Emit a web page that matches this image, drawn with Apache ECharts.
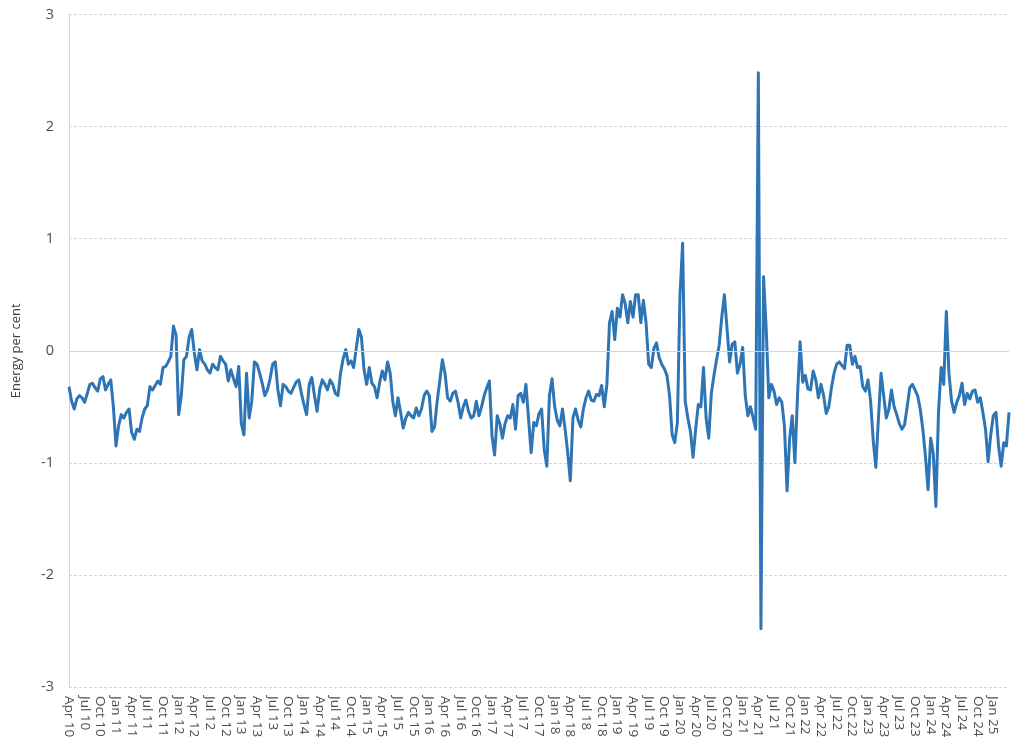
<!DOCTYPE html>
<html>
<head>
    <meta charset="utf-8">
    <script src="https://cdn.jsdelivr.net/npm/echarts@6/dist/echarts.min.js"></script>
    <style>
        html, body { margin: 0; padding: 0; background: #fff; }
    </style>
</head>
<body>
	<div id="main" style="width: 1035px; height: 748px;"></div>
	<script type="text/javascript">
		// two readings per month, first one Apr 2010, last one Apr 2025
		var monthNames = ['Jan','Feb','Mar','Apr','May','Jun','Jul','Aug','Sep','Oct','Nov','Dec']
		var startYear = 2010
		var startMonth = 3
		var yTicks = [-3, -2, -1, 0, 1, 2, 3]

		var energy = [
			-0.32,-0.45,-0.52,-0.43,-0.40,-0.42,-0.46,-0.38,-0.30,-0.29,-0.33,-0.36,
			-0.25,-0.23,-0.35,-0.30,-0.26,-0.50,-0.85,-0.67,-0.57,-0.60,-0.55,-0.52,
			-0.73,-0.79,-0.70,-0.72,-0.60,-0.52,-0.49,-0.32,-0.35,-0.31,-0.27,-0.30,
			-0.15,-0.14,-0.10,-0.05,0.22,0.14,-0.57,-0.40,-0.08,-0.05,0.12,0.19,
			-0.02,-0.17,0.01,-0.09,-0.12,-0.17,-0.20,-0.12,-0.15,-0.17,-0.05,-0.09,
			-0.12,-0.27,-0.17,-0.25,-0.32,-0.14,-0.65,-0.75,-0.20,-0.60,-0.45,-0.10,
			-0.12,-0.20,-0.29,-0.40,-0.35,-0.25,-0.12,-0.10,-0.35,-0.49,-0.30,-0.32,
			-0.36,-0.38,-0.33,-0.28,-0.26,-0.38,-0.48,-0.57,-0.30,-0.24,-0.40,-0.54,
			-0.35,-0.26,-0.30,-0.35,-0.26,-0.30,-0.38,-0.40,-0.20,-0.07,0.01,-0.12,
			-0.09,-0.15,0.02,0.19,0.12,-0.17,-0.30,-0.15,-0.29,-0.32,-0.42,-0.28,
			-0.18,-0.26,-0.10,-0.20,-0.45,-0.58,-0.42,-0.55,-0.69,-0.60,-0.55,-0.58,
			-0.60,-0.51,-0.58,-0.52,-0.40,-0.36,-0.40,-0.72,-0.68,-0.45,-0.27,-0.08,
			-0.20,-0.42,-0.45,-0.38,-0.36,-0.46,-0.60,-0.50,-0.44,-0.54,-0.60,-0.58,
			-0.45,-0.58,-0.50,-0.40,-0.33,-0.27,-0.76,-0.93,-0.58,-0.65,-0.78,-0.65,
			-0.58,-0.60,-0.48,-0.70,-0.40,-0.38,-0.46,-0.30,-0.61,-0.91,-0.64,-0.67,
			-0.56,-0.52,-0.88,-1.03,-0.40,-0.25,-0.50,-0.62,-0.67,-0.52,-0.70,-0.91,
			-1.16,-0.60,-0.52,-0.62,-0.68,-0.52,-0.42,-0.36,-0.44,-0.45,-0.39,-0.40,
			-0.31,-0.50,-0.30,0.25,0.35,0.10,0.38,0.30,0.50,0.42,0.25,0.44,
			0.30,0.50,0.50,0.25,0.45,0.25,-0.12,-0.15,0.02,0.07,-0.06,-0.12,
			-0.16,-0.22,-0.40,-0.75,-0.82,-0.64,0.50,0.96,-0.45,-0.60,-0.72,-0.95,
			-0.70,-0.48,-0.50,-0.15,-0.60,-0.78,-0.38,-0.22,-0.08,0.05,0.30,0.50,
			0.20,-0.10,0.06,0.08,-0.20,-0.12,0.03,-0.40,-0.58,-0.50,-0.60,-0.70,
			2.48,-2.48,0.66,0.20,-0.42,-0.30,-0.36,-0.48,-0.42,-0.46,-0.67,-1.25,
			-0.78,-0.58,-1.00,-0.40,0.08,-0.28,-0.22,-0.34,-0.35,-0.18,-0.26,-0.42,
			-0.30,-0.40,-0.56,-0.50,-0.33,-0.20,-0.12,-0.10,-0.13,-0.16,0.05,0.05,
			-0.12,-0.05,-0.15,-0.14,-0.32,-0.36,-0.26,-0.45,-0.80,-1.04,-0.60,-0.20,
			-0.40,-0.60,-0.52,-0.35,-0.50,-0.57,-0.65,-0.70,-0.66,-0.50,-0.33,-0.30,
			-0.35,-0.40,-0.52,-0.70,-0.94,-1.24,-0.78,-0.92,-1.39,-0.55,-0.15,-0.30,
			0.35,-0.20,-0.45,-0.55,-0.46,-0.40,-0.29,-0.48,-0.38,-0.43,-0.36,-0.35,
			-0.46,-0.42,-0.55,-0.70,-0.99,-0.75,-0.58,-0.55,-0.85,-1.03,-0.82,-0.85,
			-0.55
		]

		var dates = []
		for (var i = 0; i < energy.length; i++) {
			var m = startMonth + Math.floor(i / 2)
			var yy = (startYear + Math.floor(m / 12)) % 100
			var name = monthNames[m % 12] + ' ' + (yy < 10 ? '0' + yy : yy)
			dates.push(i % 2 === 0 ? name : name + ' mid')
		}

		var gridCol = '#c9d6e8'
		var textCol = '#4d4d4d'
		var font = '"Open Sans", "Noto Sans", sans-serif'

		var myChart = echarts.init(document.getElementById('main'))
		var option = {
			animation: false,
			grid: {
				left: 69,
				right: 26,
				top: 14.5,
				bottom: 61
			},
			xAxis: {
				type: 'category',
				data: dates,
				boundaryGap: false,
				axisLine: { show: false },
				axisTick: { show: false },
				splitLine: { show: false },
				axisLabel: {
					rotate: -90,
					margin: 9,
					color: textCol,
					fontFamily: font,
					fontSize: 13.5,
					interval: function (idx) {
						// quarterly labels, the final Apr 25 point has none
						return idx % 6 === 0 && idx < energy.length - 1
					}
				}
			},
			yAxis: {
				type: 'value',
				min: yTicks[0],
				max: yTicks[yTicks.length - 1],
				interval: 1,
				name: 'Energy per cent',
				nameLocation: 'middle',
				nameGap: 46,
				nameTextStyle: {
					color: '#404040',
					fontFamily: font,
					fontSize: 13
				},
				axisLine: {
					show: true,
					lineStyle: { color: gridCol, width: 1 }
				},
				axisTick: { show: false },
				axisLabel: {
					margin: 15,
					color: textCol,
					fontFamily: font,
					fontSize: 14.5
				},
				splitLine: {
					show: true,
					lineStyle: { color: gridCol, type: [3, 2], width: 1 }
				}
			},
			series: [{
				// solid zero line drawn under the data
				type: 'line',
				data: [],
				z: 1,
				silent: true,
				markLine: {
					silent: true,
					symbol: 'none',
					label: { show: false },
					lineStyle: { color: gridCol, type: 'solid', width: 1 },
					data: [{ yAxis: 0 }]
				}
			}, {
				name: 'Energy',
				type: 'line',
				data: energy,
				z: 3,
				showSymbol: false,
				sampling: null,
				lineStyle: { color: '#2e75b6', width: 3, join: 'round' },
				itemStyle: { color: '#2e75b6' }
			}]
		}
		myChart.setOption(option)
	</script>
</body>
</html>
